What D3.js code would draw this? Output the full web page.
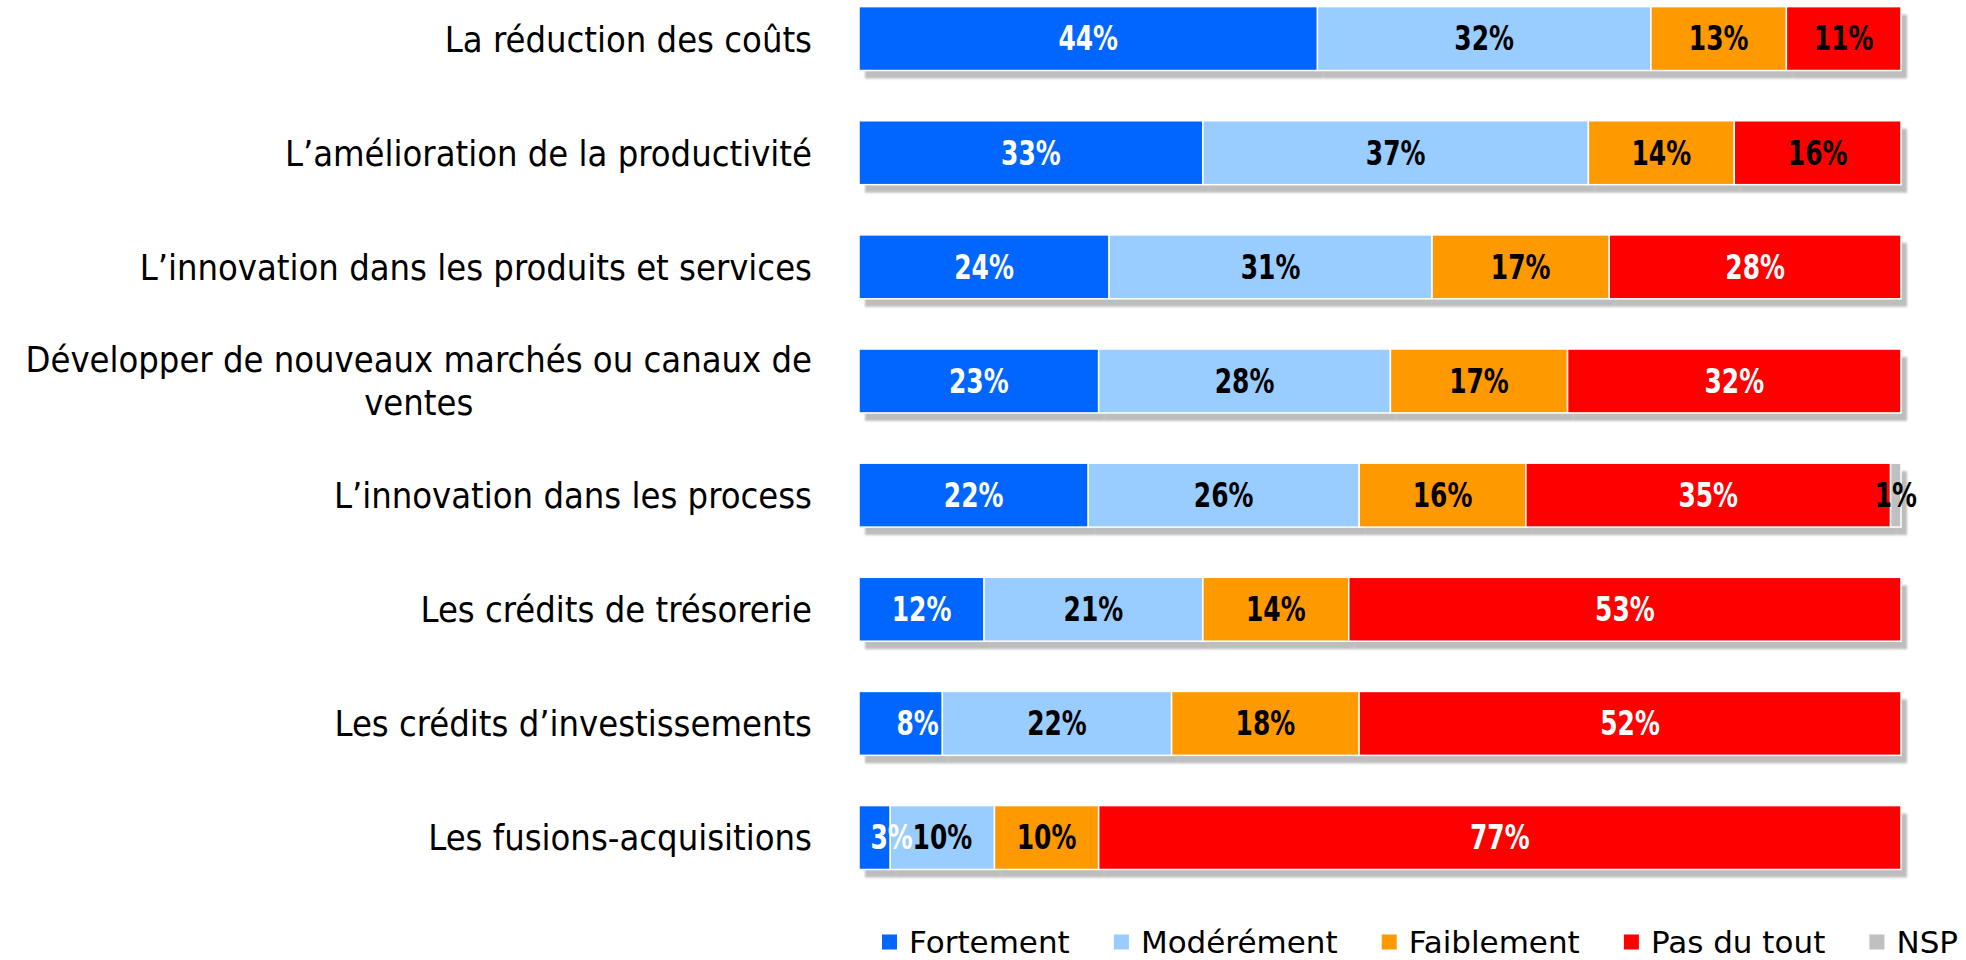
<!DOCTYPE html>
<html>
<head>
<meta charset="utf-8">
<script src="https://cdn.jsdelivr.net/npm/d3@7"></script>
<style>
  html, body { margin: 0; padding: 0; background: #ffffff; }
  svg { display: block; }
</style>
</head>
<body>
<svg id="chart" width="1966" height="960"></svg>
<script>
// ---------- data ----------
const categories = [
  ["La réduction des coûts"],
  ["L’amélioration de la productivité"],
  ["L’innovation dans les produits et services"],
  ["Développer de nouveaux marchés ou canaux de", "ventes"],
  ["L’innovation dans les process"],
  ["Les crédits de trésorerie"],
  ["Les crédits d’investissements"],
  ["Les fusions-acquisitions"]
];
const seriesNames = ["Fortement", "Modérément", "Faiblement", "Pas du tout", "NSP"];
const fortement  = [44, 33, 24, 23, 22, 12,  8,  3];
const moderement = [32, 37, 31, 28, 26, 21, 22, 10];
const faiblement = [13, 14, 17, 17, 16, 14, 18, 10];
const pasDuTout  = [11, 16, 28, 32, 35, 53, 52, 77];
const nsp        = [ 0,  0,  0,  0,  1,  0,  0,  0];
const seriesColors = ["#0066FF", "#99CCFF", "#FF9900", "#FF0000", "#C0C0C0"];
const labelColors  = ["#FFFFFF", "#000000", "#000000", "#000000", "#000000"];
// rows where the "Pas du tout" label is drawn in white
const pasDuToutWhite = [false, false, true, true, true, true, true, true];

// ---------- build table ----------
const seriesVals = [fortement, moderement, faiblement, pasDuTout, nsp];
const rows = categories.map((c, i) => {
  const r = { key: i };
  seriesNames.forEach((s, j) => r[s] = seriesVals[j][i]);
  return r;
});
const stacked = d3.stack().keys(seriesNames)(rows);

// ---------- scales ----------
const svg = d3.select("#chart");
const x = d3.scaleLinear().domain([0, 100]).range([859, 1901]);
const y = d3.scaleBand().domain(d3.range(categories.length))
  .range([-18.5, 894.6]).paddingInner(0.44).paddingOuter(0.22);

// shadow filter
const defs = svg.append("defs");
const f = defs.append("filter").attr("id", "blur").attr("x", "-5%").attr("y", "-20%")
  .attr("width", "110%").attr("height", "140%");
f.append("feGaussianBlur").attr("stdDeviation", 1.2);

// shadows
const shadowG = svg.append("g").attr("filter", "url(#blur)");
stacked.forEach(layer => {
  shadowG.selectAll(null).data(layer.filter(d => d[1] > d[0])).join("rect")
    .attr("x", d => x(d[0]) + 6)
    .attr("y", d => y(d.data.key) + 8)
    .attr("width", d => x(d[1]) - x(d[0]))
    .attr("height", y.bandwidth())
    .attr("fill", "#BDBDBD");
});

// bars
stacked.forEach((layer, j) => {
  svg.append("g").selectAll("rect").data(layer.filter(d => d[1] > d[0])).join("rect")
    .attr("x", d => x(d[0]))
    .attr("y", d => y(d.data.key))
    .attr("width", d => x(d[1]) - x(d[0]))
    .attr("height", y.bandwidth())
    .attr("fill", seriesColors[j])
    .attr("stroke", "#FFFFFF")
    .attr("stroke-width", 1.5);
});

// value labels (condensed horizontally)
stacked.forEach((layer, j) => {
  svg.append("g").selectAll("text").data(layer.filter(d => d[1] > d[0])).join("text")
    .attr("transform", d => {
      let cx = (x(d[0]) + x(d[1])) / 2;
      if (j === 0 && (d[1] - d[0]) < 10) cx += 17; // small first-series labels sit right of centre
      return `translate(${cx},${y(d.data.key) + y.bandwidth() / 2}) scale(0.84,1)`;
    })
    .attr("dy", "0.36em")
    .attr("text-anchor", "middle")
    .attr("font-family", "'DejaVu Sans Condensed', 'DejaVu Sans', sans-serif")
    .attr("font-weight", "bold")
    .attr("font-size", 33)
    .attr("fill", d => (j === 3 && pasDuToutWhite[d.data.key]) ? "#FFFFFF" : labelColors[j])
    .text(d => (d[1] - d[0]) + "%");
});

// category labels (right aligned block, lines centred within block)
const labelRight = 812;
const lineH = 43;
const catG = svg.append("g")
  .attr("font-family", "'DejaVu Sans Condensed', 'DejaVu Sans', sans-serif")
  .attr("font-size", 36).attr("fill", "#000000");
categories.forEach((lines, i) => {
  const cy = y(i) + y.bandwidth() / 2;
  const texts = lines.map((ln, k) => catG.append("text")
    .attr("y", cy + (k - (lines.length - 1) / 2) * lineH)
    .attr("dy", "0.36em")
    .attr("text-anchor", "middle")
    .text(ln));
  const widths = texts.map(t => t.node().getComputedTextLength());
  const blockW = d3.max(widths);
  texts.forEach(t => t.attr("x", labelRight - blockW / 2));
});

// legend
const legend = svg.append("g")
  .attr("font-family", "'DejaVu Sans', sans-serif")
  .attr("font-size", 31).attr("fill", "#000000");
const legStart = 882, legEnd = 1958, sq = 15, pad = 12, legY = 942;
const items = seriesNames.map((s, j) => {
  const g = legend.append("g");
  g.append("rect").attr("width", sq).attr("height", sq).attr("y", legY - sq / 2)
    .attr("fill", seriesColors[j]);
  const t = g.append("text").attr("x", sq + pad).attr("y", legY).attr("dy", "0.36em").text(s);
  return { g, w: sq + pad + t.node().getComputedTextLength() };
});
const totalW = d3.sum(items, d => d.w);
const gap = (legEnd - legStart - totalW) / (items.length - 1);
let cx = legStart;
items.forEach(it => { it.g.attr("transform", `translate(${cx},0)`); cx += it.w + gap; });
</script>
</body>
</html>
